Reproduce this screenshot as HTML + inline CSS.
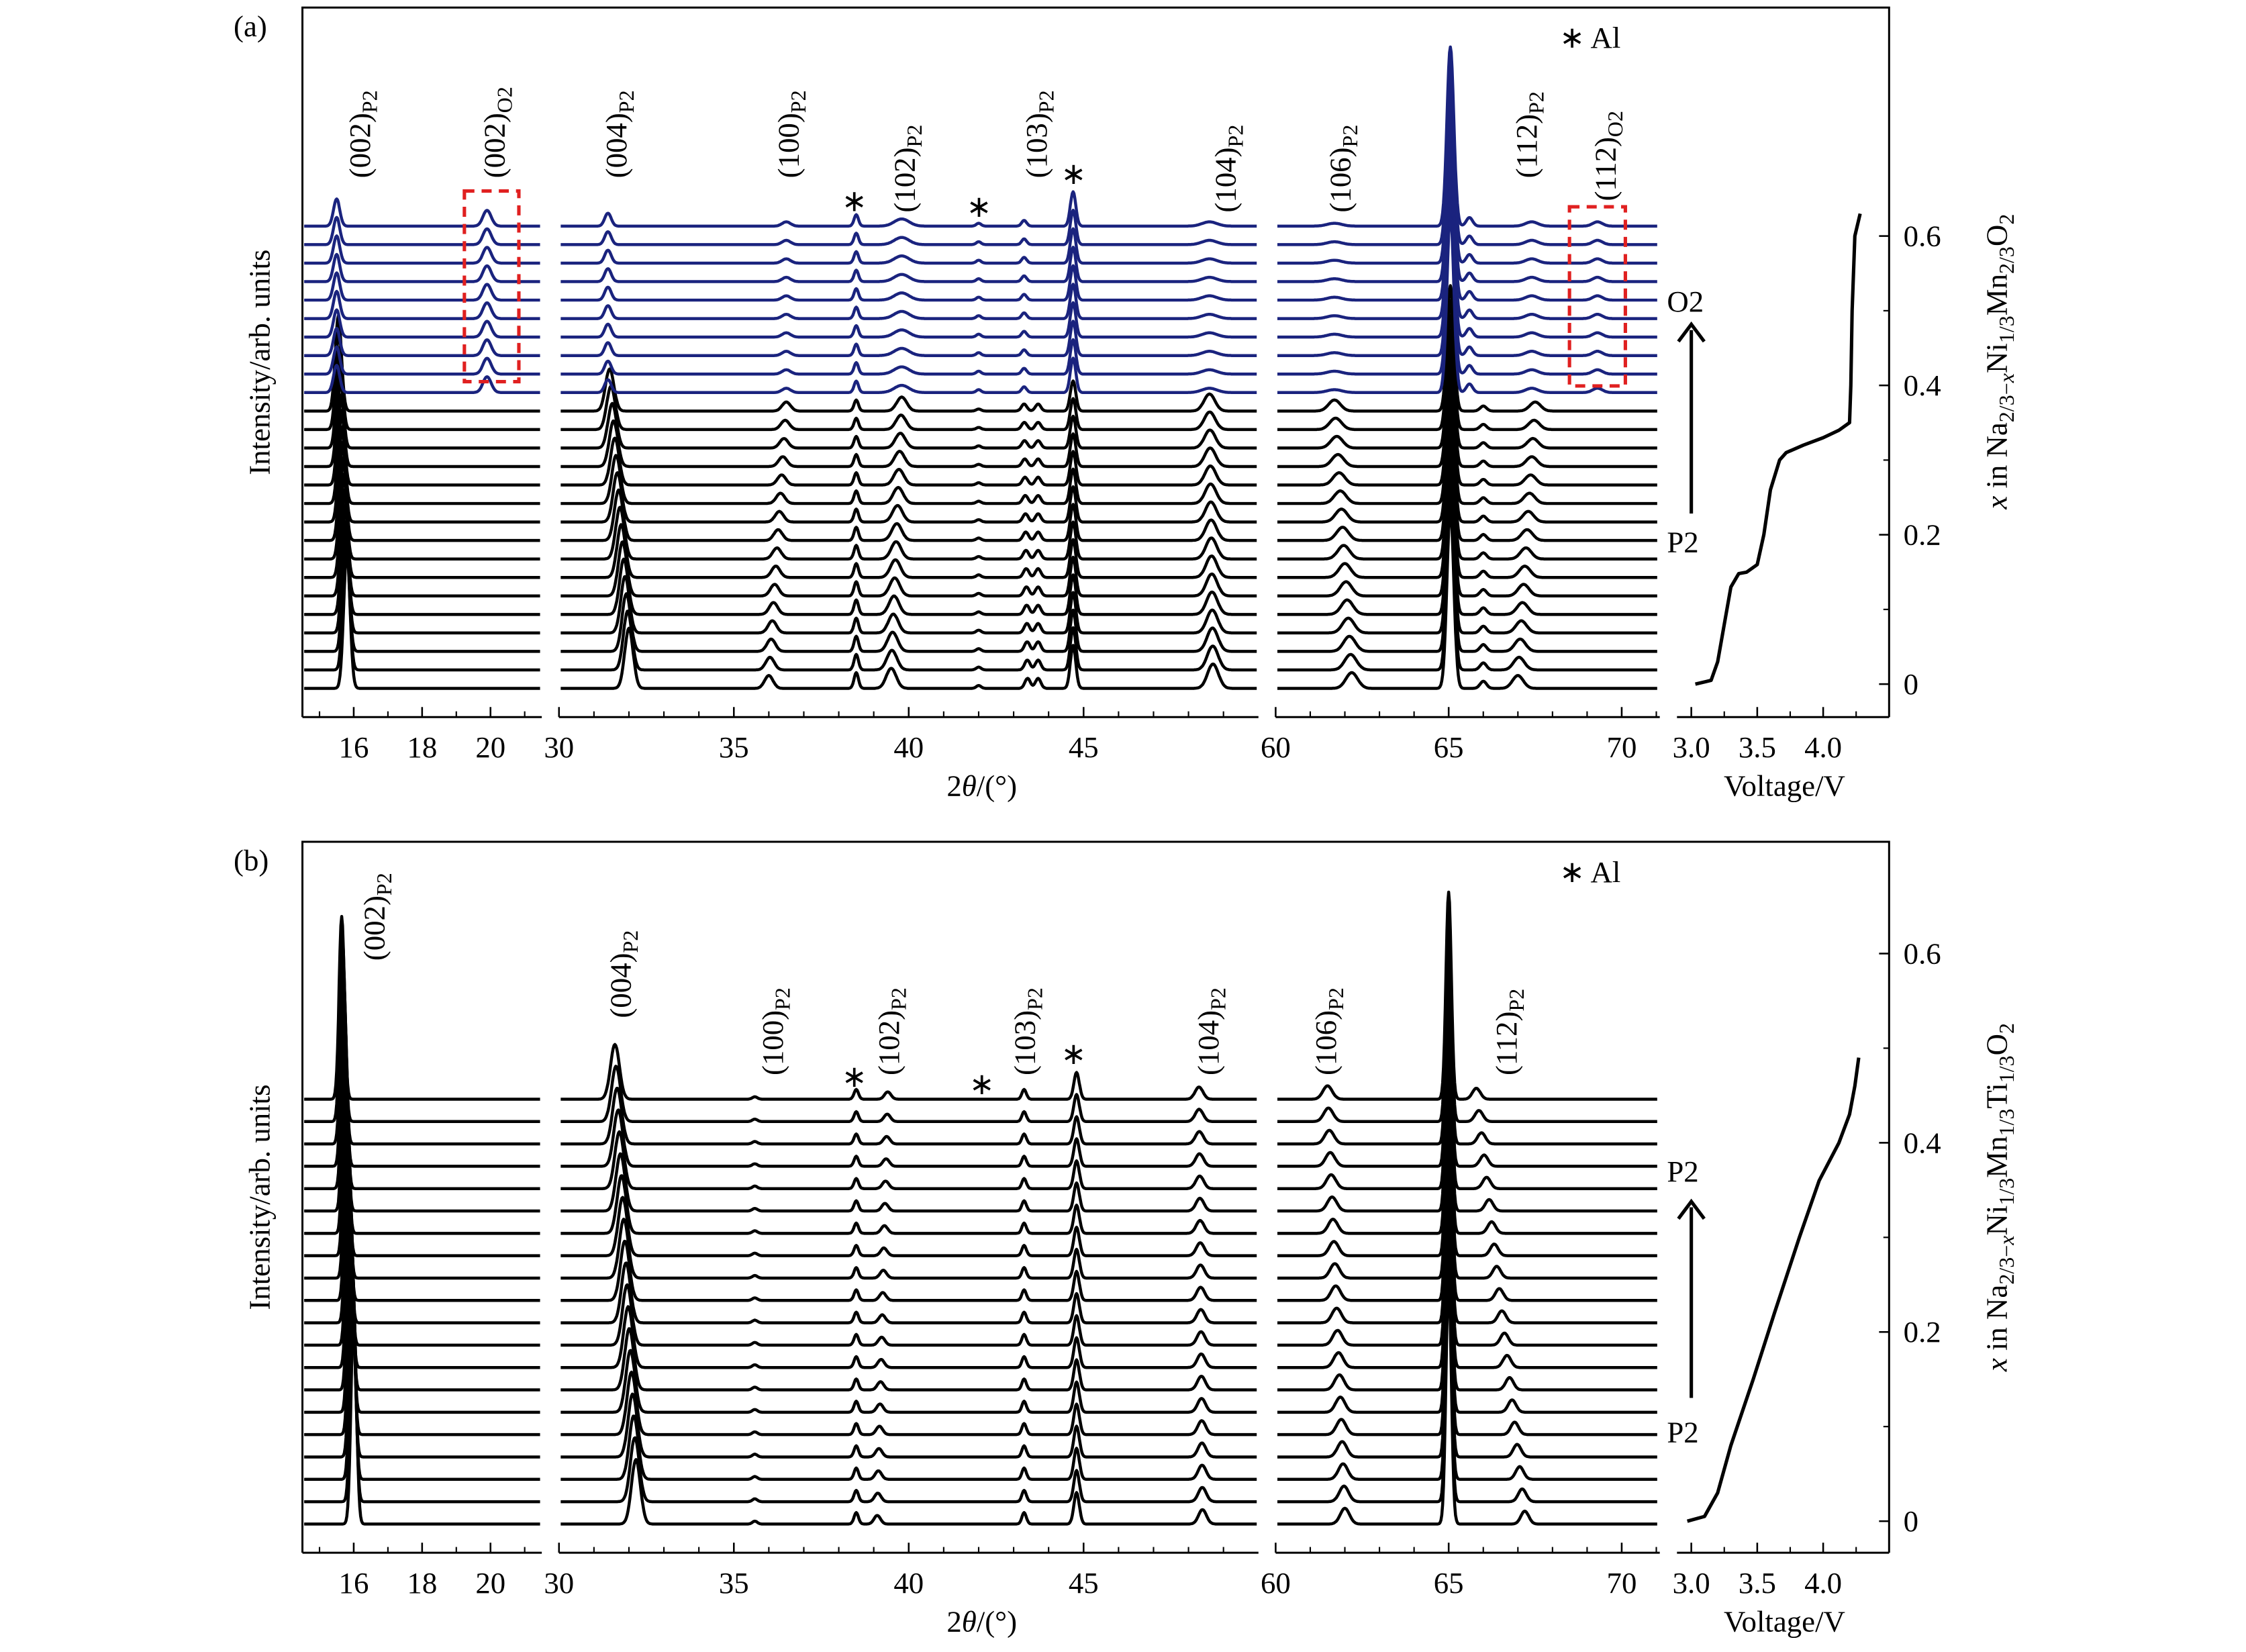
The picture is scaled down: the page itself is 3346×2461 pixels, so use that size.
<!DOCTYPE html>
<html><head><meta charset="utf-8"><style>
html,body{margin:0;padding:0;background:#fff}
svg{display:block}
text{font-family:"Liberation Serif",serif;fill:#000}
</style></head><body>
<svg id="fig" xmlns="http://www.w3.org/2000/svg" width="3346" height="2461" viewBox="0 0 1567 1152">
<g id="g"></g>
</svg>
<script>
// ---------- data ----------
// panel (a) peaks: [pos at first P2 trace, pos at last P2 trace, height px, width deg]
const peaksA_P2 = [[15.8,15.55,95,0.13],[32.0,31.45,42,0.17],[36.0,36.5,9,0.17],[38.5,38.5,11,0.09],[39.5,39.8,14,0.2],[42.0,42.0,2,0.1],[43.4,43.3,7,0.11],[43.7,43.7,7,0.11],[44.7,44.7,30,0.11],[48.7,48.6,17,0.22],[62.2,61.7,11,0.24],[65.05,65.05,125,0.14],[66.0,66.0,5,0.13],[67.0,67.5,9,0.22]];
const peaksA_O2 = [[15.5,19,0.13],[19.9,11,0.17],[31.4,9,0.13],[36.5,3,0.17],[38.5,8,0.09],[39.8,5,0.3],[42.0,2,0.1],[43.3,4,0.1],[44.7,24,0.11],[48.6,3,0.3],[61.7,2,0.3],[65.05,125,0.14],[65.6,6,0.13],[67.4,3,0.25],[69.3,3,0.2]];
const peaksB = [[16.0,15.65,150,0.11],[32.2,31.6,45,0.18],[35.6,35.6,2,0.1],[38.5,38.5,8,0.09],[39.1,39.4,6,0.13],[43.3,43.3,8,0.09],[44.8,44.8,22,0.11],[48.4,48.3,10,0.16],[62.0,61.5,11,0.19],[65.0,65.0,170,0.11],[67.2,65.8,9,0.16]];
const xValsA = [0,0.005,0.03,0.08,0.13,0.148,0.15,0.16,0.2,0.26,0.3,0.31,0.32,0.33,0.34,0.35,0.4,0.5,0.6,0.63];
const voltsA = [3.03,3.15,3.2,3.25,3.3,3.36,3.42,3.5,3.55,3.6,3.67,3.72,3.85,4.0,4.12,4.2,4.21,4.22,4.24,4.28];
const xValsB = [0,0.005,0.03,0.08,0.15,0.22,0.3,0.36,0.4,0.43,0.46,0.49];
const voltsB = [2.97,3.1,3.2,3.3,3.47,3.63,3.82,3.97,4.12,4.2,4.24,4.27];
const yTicks = [0,0.2,0.4,0.6];
// ---------- helpers ----------
const NS="http://www.w3.org/2000/svg", G=document.getElementById('g');
function el(t,a,p){const e=document.createElementNS(NS,t);for(const k in a)e.setAttribute(k,a[k]);(p||G).appendChild(e);return e;}
const segs=[{x0:211,x1:378,d0:14.5,d1:21.5,maj:[16,18,20],min:[15,17,19,21]},
 {x0:390,x1:878,d0:30,d1:50,maj:[30,35,40,45],min:[31,32,33,34,36,37,38,39,41,42,43,44,46,47,48,49]},
 {x0:890,x1:1158,d0:60,d1:71.1,maj:[60,65,70],min:[61,62,63,64,66,67,68,69,71]}];
function sx(s,d){return s.x0+(d-s.d0)/(s.d1-s.d0)*(s.x1-s.x0);}
function vx(v){return 1180+(v-3.0)*92;}
function txt(x,y,s,name,attrs){const t=el('text',Object.assign({x:x,y:y,'font-size':21},attrs||{}));t.innerHTML=s;return t;}
function trace(base,peaks,color,name){
 segs.forEach((s,si)=>{let pts=[];
  for(let d=s.d0+0.05;d<=s.d1-0.05;d+=0.025){let y=base;for(const p of peaks){y-=p[1]*Math.exp(-Math.pow((d-p[0])/p[2],2));}pts.push(sx(s,d).toFixed(1)+','+y.toFixed(1));}
  const pl=el('polyline',{points:pts.join(' '),fill:'none',stroke:color,'stroke-width':2.1,'stroke-linejoin':'round'});
  
  
 });
}
function panel(top,bot,yz,ppu,lab,panelName){
 const fr=el('path',{d:`M211 ${bot} L211 ${top} L1318 ${top} L1318 ${bot}`,fill:'none',stroke:'#000','stroke-width':1.4});
 
 segs.forEach((s,i)=>{const a=el('line',{x1:s.x0,x2:s.x1,y1:bot,y2:bot,stroke:'#000','stroke-width':1.4});
  
  s.maj.forEach(d=>{el('line',{x1:sx(s,d),x2:sx(s,d),y1:bot,y2:bot-7,stroke:'#000','stroke-width':1.2});txt(sx(s,d),bot+28,String(d),panelName+'-x-tick-label',{'text-anchor':'middle'});});
  s.min.forEach(d=>{el('line',{x1:sx(s,d),x2:sx(s,d),y1:bot,y2:bot-4,stroke:'#000','stroke-width':1});});
 });
 const va=el('line',{x1:1170,x2:1318,y1:bot,y2:bot,stroke:'#000','stroke-width':1.4});
 
 [3.0,3.5,4.0].forEach(v=>{el('line',{x1:vx(v),x2:vx(v),y1:bot,y2:bot-7,stroke:'#000','stroke-width':1.2});txt(vx(v),bot+28,v.toFixed(1),panelName+'-voltage-tick',{'text-anchor':'middle'});});
 [3.25,3.75,4.25].forEach(v=>{el('line',{x1:vx(v),x2:vx(v),y1:bot,y2:bot-4,stroke:'#000','stroke-width':1});});
 yTicks.forEach(t=>{const y=yz-t*ppu;el('line',{x1:1318,x2:1311,y1:y,y2:y,stroke:'#000','stroke-width':1.2});txt(1328,y+7,String(t),panelName+'-y-tick-label');});
 [0.1,0.3,0.5].forEach(t=>{const y=yz-t*ppu;el('line',{x1:1318,x2:1314,y1:y,y2:y,stroke:'#000','stroke-width':1});});
 txt(163,top+20,lab,panelName+'-label');
 txt(1088,top+28,'∗ Al',panelName+'-legend-al');
 txt(685,bot+55,'2<tspan font-style="italic">θ</tspan>/(°)',panelName+'-x-axis-title',{'text-anchor':'middle'});
 txt(1245,bot+55,'Voltage/V',panelName+'-voltage-axis-title',{'text-anchor':'middle'});
 txt(0,0,'Intensity/arb. units',panelName+'-y-axis-title',{'text-anchor':'middle',transform:`translate(188 ${(top+bot)/2}) rotate(-90)`});
}
function vertLabel(x,y,main,sub,color,name){
 txt(0,0,main+'<tspan font-size="15" dy="5">'+sub+'</tspan>',name,{transform:`translate(${x} ${y}) rotate(-90)`,fill:color});
}
function curve(xv,vv,yz,ppu,name){
 const pts=xv.map((x,i)=>vx(vv[i]).toFixed(1)+','+(yz-x*ppu).toFixed(1)).join(' ');
 const p=el('polyline',{points:pts,fill:'none',stroke:'#000','stroke-width':2.4,'stroke-linejoin':'round'});
 
}
function arrow(x,y1,y2,name){
 const l=el('line',{x1:x,x2:x,y1:y1,y2:y2+4,stroke:'#000','stroke-width':2.4});
 
 el('path',{d:`M${x-9} ${y2+12} L${x} ${y2} L${x+9} ${y2+12}`,fill:'none',stroke:'#000','stroke-width':2.4});
}
// ---------- panel (a) ----------
panel(5,500,477,521,'(a)','panel-a');
const nA=26,nP2=16;
for(let i=0;i<nA;i++){
 const base=480-i*12.9;
 if(i<nP2){const t=i/(nP2-1);trace(base,peaksA_P2.map(p=>[p[0]+(p[1]-p[0])*t,p[2]*(1-0.3*t),p[3]]),'#000','panel-a-trace-p2-'+i);}
 else{trace(base,peaksA_O2,'#1a237e','panel-a-trace-o2-'+i);}
}
curve(xValsA,voltsA,477,521,'panel-a-voltage-curve');
txt(0,0,'<tspan font-style="italic">x</tspan> in Na<tspan font-size="15" dy="5">2/3−<tspan font-style="italic">x</tspan></tspan><tspan dy="-5">Ni</tspan><tspan font-size="15" dy="5">1/3</tspan><tspan dy="-5">Mn</tspan><tspan font-size="15" dy="5">2/3</tspan><tspan dy="-5">O</tspan><tspan font-size="15" dy="5">2</tspan>','panel-a-y-axis-title',{'text-anchor':'middle',transform:'translate(1400 252) rotate(-90)'});
vertLabel(258,124,'(002)','P2','#000','label-a-002');
vertLabel(352,124,'(002)','O2','#1a237e','label-a-002-o2');
vertLabel(437,124,'(004)','P2','#000','label-a-004');
vertLabel(557,124,'(100)','P2','#000','label-a-100');
vertLabel(638,148,'(102)','P2','#000','label-a-102');
vertLabel(730,124,'(103)','P2','#000','label-a-103');
vertLabel(862,148,'(104)','P2','#000','label-a-104');
vertLabel(942,148,'(106)','P2','#000','label-a-106');
vertLabel(1072,124,'(112)','P2','#000','label-a-112');
vertLabel(1127,140,'(112)','O2','#1a237e','label-a-112-o2');
txt(596,147,'∗','star-a-1',{'text-anchor':'middle'});
txt(683,151,'∗','star-a-2',{'text-anchor':'middle'});
txt(749,128,'∗','star-a-3',{'text-anchor':'middle'});
[[324,133,38,133],[1095,144,39,125]].forEach((r,i)=>{const b=el('rect',{x:r[0],y:r[1],width:r[2],height:r[3],fill:'none',stroke:'#e02020','stroke-width':2.4,'stroke-dasharray':'7,5'});});
txt(1163,217,'O2','panel-a-o2-label',{fill:'#1a237e'});
arrow(1180,358,226,'panel-a-arrow');
txt(1163,385,'P2','panel-a-p2-label');
// ---------- panel (b) ----------
panel(587,1083,1061,660,'(b)','panel-b');
const nB=20;
for(let i=0;i<nB;i++){const t=i/(nB-1);const base=1063-i*15.6;
 trace(base,peaksB.map(p=>[p[0]+(p[1]-p[0])*t,p[2]*(1-0.15*t),p[3]]),'#000','panel-b-trace-'+i);}
curve(xValsB,voltsB,1061,660,'panel-b-voltage-curve');
txt(0,0,'<tspan font-style="italic">x</tspan> in Na<tspan font-size="15" dy="5">2/3−<tspan font-style="italic">x</tspan></tspan><tspan dy="-5">Ni</tspan><tspan font-size="15" dy="5">1/3</tspan><tspan dy="-5">Mn</tspan><tspan font-size="15" dy="5">1/3</tspan><tspan dy="-5">Ti</tspan><tspan font-size="15" dy="5">1/3</tspan><tspan dy="-5">O</tspan><tspan font-size="15" dy="5">2</tspan>','panel-b-y-axis-title',{'text-anchor':'middle',transform:'translate(1400 835) rotate(-90)'});
vertLabel(268,670,'(002)','P2','#000','label-b-002');
vertLabel(440,710,'(004)','P2','#000','label-b-004');
vertLabel(546,750,'(100)','P2','#000','label-b-100');
vertLabel(627,750,'(102)','P2','#000','label-b-102');
vertLabel(722,750,'(103)','P2','#000','label-b-103');
vertLabel(850,750,'(104)','P2','#000','label-b-104');
vertLabel(932,750,'(106)','P2','#000','label-b-106');
vertLabel(1058,750,'(112)','P2','#000','label-b-112');
txt(596,758,'∗','star-b-1',{'text-anchor':'middle'});
txt(685,763,'∗','star-b-2',{'text-anchor':'middle'});
txt(749,742,'∗','star-b-3',{'text-anchor':'middle'});
txt(1163,824,'P2','panel-b-p2-top-label');
arrow(1180,975,838,'panel-b-arrow');
txt(1163,1006,'P2','panel-b-p2-bottom-label');
</script>
</body></html>
